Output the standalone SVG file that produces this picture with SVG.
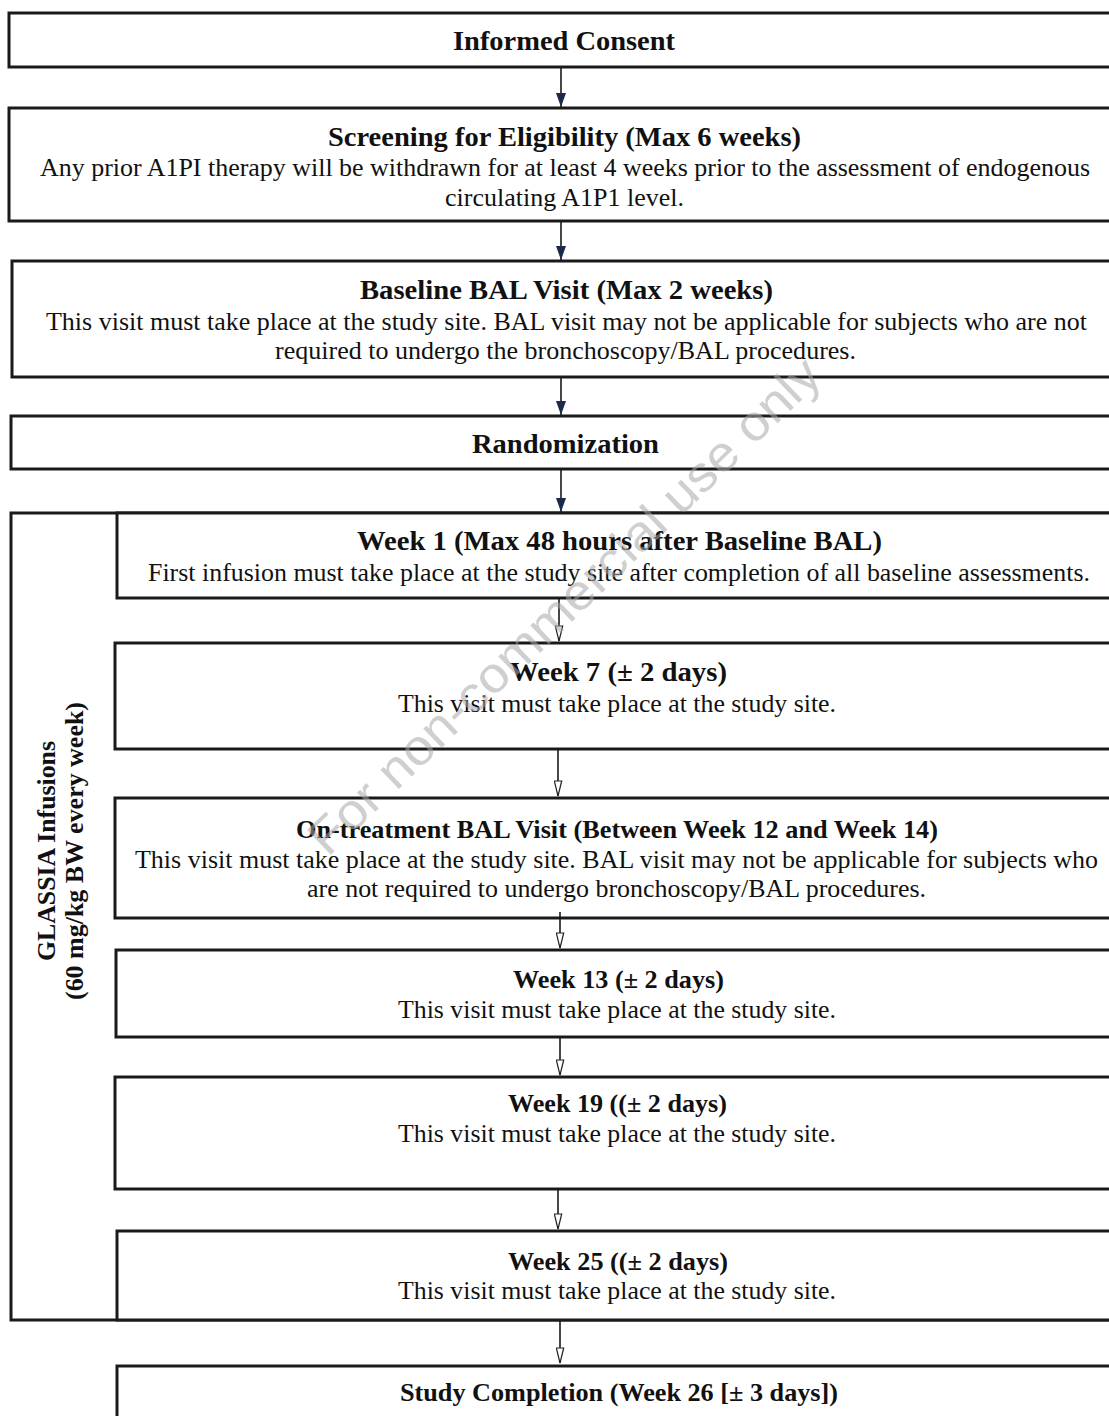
<svg xmlns="http://www.w3.org/2000/svg" width="1109" height="1416" viewBox="0 0 1109 1416">
<style>
.bg{fill:#ffffff}
.box{fill:#ffffff;stroke:#1a1a1a;stroke-width:3}
.ttl{font-family:"Liberation Serif","Times New Roman",serif;font-weight:bold;fill:#111;text-anchor:middle}
.txt{font-family:"Liberation Serif","Times New Roman",serif;fill:#111;text-anchor:middle;font-size:25px}
.t27{font-size:27px}
.t26{font-size:26px}
.con{stroke:#1a1a1a;stroke-width:1.6;fill:none}
.wm{font-family:"Liberation Sans",Arial,sans-serif;fill:#a8a8a8;fill-opacity:0.55;text-anchor:middle;font-size:50px}
</style>
<defs>
<marker id="solid" viewBox="0 0 14 10" refX="14" refY="5" markerWidth="14" markerHeight="10" markerUnits="userSpaceOnUse" orient="auto">
<path d="M0,0 L14,5 L0,10 z" fill="#1c2a4a"/>
</marker>
<marker id="hollow" viewBox="0 0 17 9" refX="16" refY="4.5" markerWidth="17" markerHeight="9" markerUnits="userSpaceOnUse" orient="auto">
<path d="M1,0.8 L16,4.5 L1,8.2 z" fill="#ffffff" stroke="#222" stroke-width="1.2"/>
</marker>
</defs>
<rect class="bg" x="0" y="0" width="1109" height="1416"/>

<g id="informed-consent">
<rect class="box" x="9" y="13" width="1120" height="54"/>
<text class="ttl t27" x="564" y="50" textLength="222" lengthAdjust="spacingAndGlyphs">Informed Consent</text>
</g>

<g id="screening">
<rect class="box" x="9" y="108" width="1120" height="113"/>
<text class="ttl t27" x="564.5" y="146" textLength="473" lengthAdjust="spacingAndGlyphs">Screening for Eligibility (Max 6 weeks)</text>
<text class="txt" x="565" y="176" textLength="1050" lengthAdjust="spacingAndGlyphs">Any prior A1PI therapy will be withdrawn for at least 4 weeks prior to the assessment of endogenous</text>
<text class="txt" x="564.5" y="206" textLength="239" lengthAdjust="spacingAndGlyphs">circulating A1P1 level.</text>
</g>

<g id="baseline-bal">
<rect class="box" x="12" y="261" width="1120" height="116"/>
<text class="ttl t27" x="566.5" y="299" textLength="413" lengthAdjust="spacingAndGlyphs">Baseline BAL Visit (Max 2 weeks)</text>
<text class="txt" x="566.5" y="330" textLength="1041" lengthAdjust="spacingAndGlyphs">This visit must take place at the study site. BAL visit may not be applicable for subjects who are not</text>
<text class="txt" x="565.5" y="359" textLength="581" lengthAdjust="spacingAndGlyphs">required to undergo the bronchoscopy/BAL procedures.</text>
</g>

<g id="randomization">
<rect class="box" x="11" y="416" width="1120" height="53"/>
<text class="ttl t27" x="565.5" y="453" textLength="187" lengthAdjust="spacingAndGlyphs">Randomization</text>
</g>

<g id="glassia-infusions">
<rect class="box" x="11" y="513" width="1120" height="807"/>
<text class="ttl" font-size="25" transform="translate(55,851) rotate(-90)" x="0" y="0" textLength="220" lengthAdjust="spacingAndGlyphs">GLASSIA Infusions</text>
<text class="ttl" font-size="25" transform="translate(83,851) rotate(-90)" x="0" y="0" textLength="298" lengthAdjust="spacingAndGlyphs">(60 mg/kg BW every week)</text>
</g>

<g id="week-1">
<rect class="box" x="117" y="513" width="1020" height="85"/>
<text class="ttl t27" x="619.5" y="550" textLength="525" lengthAdjust="spacingAndGlyphs">Week 1 (Max 48 hours after Baseline BAL)</text>
<text class="txt" x="619" y="581" textLength="942" lengthAdjust="spacingAndGlyphs">First infusion must take place at the study site after completion of all baseline assessments.</text>
</g>

<g id="week-7">
<rect class="box" x="115" y="643" width="1020" height="106"/>
<text class="ttl t27" x="618.5" y="681" textLength="217" lengthAdjust="spacingAndGlyphs">Week 7 (± 2 days)</text>
<text class="txt" x="617" y="712" textLength="438" lengthAdjust="spacingAndGlyphs">This visit must take place at the study site.</text>
</g>

<g id="on-treatment-bal">
<rect class="box" x="115" y="798" width="1020" height="120"/>
<text class="ttl t26" x="617" y="838" textLength="642" lengthAdjust="spacingAndGlyphs">On-treatment BAL Visit (Between Week 12 and Week 14)</text>
<text class="txt" x="616.5" y="868" textLength="963" lengthAdjust="spacingAndGlyphs">This visit must take place at the study site. BAL visit may not be applicable for subjects who</text>
<text class="txt" x="616.5" y="897" textLength="619" lengthAdjust="spacingAndGlyphs">are not required to undergo bronchoscopy/BAL procedures.</text>
</g>

<g id="week-13">
<rect class="box" x="116" y="950" width="1020" height="87"/>
<text class="ttl t26" x="618.5" y="988" textLength="211" lengthAdjust="spacingAndGlyphs">Week 13 (± 2 days)</text>
<text class="txt" x="617" y="1018" textLength="438" lengthAdjust="spacingAndGlyphs">This visit must take place at the study site.</text>
</g>

<g id="week-19">
<rect class="box" x="115" y="1077" width="1020" height="112"/>
<text class="ttl t26" x="617.5" y="1112" textLength="219" lengthAdjust="spacingAndGlyphs">Week 19 ((± 2 days)</text>
<text class="txt" x="617" y="1142" textLength="438" lengthAdjust="spacingAndGlyphs">This visit must take place at the study site.</text>
</g>

<g id="week-25">
<rect class="box" x="117" y="1231" width="1020" height="89"/>
<text class="ttl t26" x="618" y="1270" textLength="220" lengthAdjust="spacingAndGlyphs">Week 25 ((± 2 days)</text>
<text class="txt" x="617" y="1299" textLength="438" lengthAdjust="spacingAndGlyphs">This visit must take place at the study site.</text>
</g>

<g id="study-completion">
<rect class="box" x="117" y="1366" width="1020" height="80"/>
<text class="ttl t26" x="619" y="1401" textLength="438" lengthAdjust="spacingAndGlyphs">Study Completion (Week 26 [± 3 days])</text>
</g>

<g id="connectors">
<line class="con" x1="561" y1="68" x2="561" y2="107" marker-end="url(#solid)"/>
<line class="con" x1="561" y1="222" x2="561" y2="260" marker-end="url(#solid)"/>
<line class="con" x1="561" y1="378" x2="561" y2="415" marker-end="url(#solid)"/>
<line class="con" x1="561" y1="470" x2="561" y2="512" marker-end="url(#solid)"/>
<line class="con" x1="559" y1="599" x2="559" y2="641" marker-end="url(#hollow)"/>
<line class="con" x1="558" y1="750" x2="558" y2="796" marker-end="url(#hollow)"/>
<line class="con" x1="560" y1="912" x2="560" y2="948" marker-end="url(#hollow)"/>
<line class="con" x1="560" y1="1038" x2="560" y2="1075" marker-end="url(#hollow)"/>
<line class="con" x1="558" y1="1190" x2="558" y2="1229" marker-end="url(#hollow)"/>
<line class="con" x1="560" y1="1321" x2="560" y2="1363" marker-end="url(#hollow)"/>
</g>

<text class="wm" x="576" y="618" transform="rotate(-44 576 618)" textLength="690" lengthAdjust="spacingAndGlyphs">For non-commercial use only</text>
</svg>
